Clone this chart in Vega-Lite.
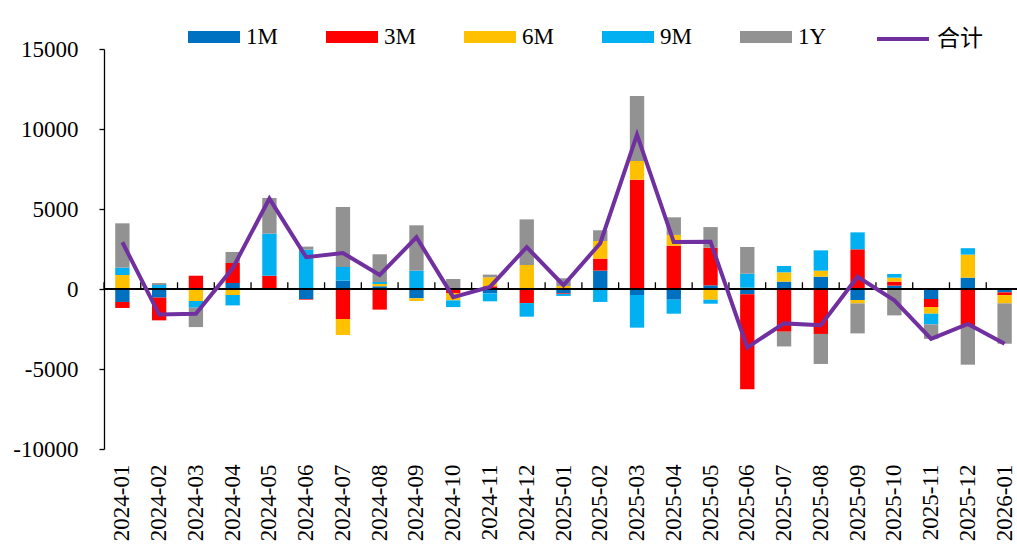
{
  "$schema": "https://vega.github.io/schema/vega-lite/v6.json",
  "autosize": {"type": "none"},
  "padding": {"left": 104, "top": 49, "right": 0, "bottom": 96},
  "width": 913,
  "height": 400,
  "background": "white",
  "config": {
    "view": {"stroke": null},
    "axis": {"labelFont": "Liberation Serif", "labelColor": "#000000", "title": null, "grid": false},
    "legend": {"labelFont": "Liberation Serif, Noto Sans CJK SC", "labelColor": "#000000", "padding": 0}
  },
  "datasets": {
    "bars": [
      {"month": "2024-01", "tenor": "1M", "value": -810}, {"month": "2024-01", "tenor": "3M", "value": -375}, {"month": "2024-01", "tenor": "6M", "value": 875}, {"month": "2024-01", "tenor": "9M", "value": 460}, {"month": "2024-01", "tenor": "1Y", "value": 2770},
      {"month": "2024-02", "tenor": "1M", "value": -540}, {"month": "2024-02", "tenor": "3M", "value": -1420}, {"month": "2024-02", "tenor": "6M", "value": 50}, {"month": "2024-02", "tenor": "9M", "value": 200}, {"month": "2024-02", "tenor": "1Y", "value": 120},
      {"month": "2024-03", "tenor": "3M", "value": 830}, {"month": "2024-03", "tenor": "6M", "value": -750}, {"month": "2024-03", "tenor": "9M", "value": -420}, {"month": "2024-03", "tenor": "1Y", "value": -1210},
      {"month": "2024-04", "tenor": "1M", "value": 375}, {"month": "2024-04", "tenor": "3M", "value": 1250}, {"month": "2024-04", "tenor": "6M", "value": -375}, {"month": "2024-04", "tenor": "9M", "value": -650}, {"month": "2024-04", "tenor": "1Y", "value": 690},
      {"month": "2024-05", "tenor": "3M", "value": 830}, {"month": "2024-05", "tenor": "9M", "value": 2630}, {"month": "2024-05", "tenor": "1Y", "value": 2230},
      {"month": "2024-06", "tenor": "1M", "value": -625}, {"month": "2024-06", "tenor": "3M", "value": -40}, {"month": "2024-06", "tenor": "9M", "value": 2460}, {"month": "2024-06", "tenor": "1Y", "value": 190},
      {"month": "2024-07", "tenor": "1M", "value": 520}, {"month": "2024-07", "tenor": "3M", "value": -1875}, {"month": "2024-07", "tenor": "6M", "value": -1000}, {"month": "2024-07", "tenor": "9M", "value": 855}, {"month": "2024-07", "tenor": "1Y", "value": 3750},
      {"month": "2024-08", "tenor": "1M", "value": 170}, {"month": "2024-08", "tenor": "3M", "value": -1290}, {"month": "2024-08", "tenor": "6M", "value": 145}, {"month": "2024-08", "tenor": "9M", "value": 125}, {"month": "2024-08", "tenor": "1Y", "value": 1730},
      {"month": "2024-09", "tenor": "1M", "value": -580}, {"month": "2024-09", "tenor": "6M", "value": -170}, {"month": "2024-09", "tenor": "9M", "value": 1150}, {"month": "2024-09", "tenor": "1Y", "value": 2830},
      {"month": "2024-10", "tenor": "3M", "value": -250}, {"month": "2024-10", "tenor": "6M", "value": -460}, {"month": "2024-10", "tenor": "9M", "value": -420}, {"month": "2024-10", "tenor": "1Y", "value": 625},
      {"month": "2024-11", "tenor": "1M", "value": -270}, {"month": "2024-11", "tenor": "3M", "value": 170}, {"month": "2024-11", "tenor": "6M", "value": 560}, {"month": "2024-11", "tenor": "9M", "value": -500}, {"month": "2024-11", "tenor": "1Y", "value": 170},
      {"month": "2024-12", "tenor": "1M", "value": -50}, {"month": "2024-12", "tenor": "3M", "value": -830}, {"month": "2024-12", "tenor": "6M", "value": 1500}, {"month": "2024-12", "tenor": "9M", "value": -850}, {"month": "2024-12", "tenor": "1Y", "value": 2850},
      {"month": "2025-01", "tenor": "1M", "value": -270}, {"month": "2025-01", "tenor": "3M", "value": -40}, {"month": "2025-01", "tenor": "6M", "value": 190}, {"month": "2025-01", "tenor": "9M", "value": -125}, {"month": "2025-01", "tenor": "1Y", "value": 480},
      {"month": "2025-02", "tenor": "1M", "value": 1150}, {"month": "2025-02", "tenor": "3M", "value": 750}, {"month": "2025-02", "tenor": "6M", "value": 1100}, {"month": "2025-02", "tenor": "9M", "value": -810}, {"month": "2025-02", "tenor": "1Y", "value": 670},
      {"month": "2025-03", "tenor": "1M", "value": -375}, {"month": "2025-03", "tenor": "3M", "value": 6830}, {"month": "2025-03", "tenor": "6M", "value": 1170}, {"month": "2025-03", "tenor": "9M", "value": -2040}, {"month": "2025-03", "tenor": "1Y", "value": 4060},
      {"month": "2025-04", "tenor": "1M", "value": -670}, {"month": "2025-04", "tenor": "3M", "value": 2710}, {"month": "2025-04", "tenor": "6M", "value": 670}, {"month": "2025-04", "tenor": "9M", "value": -875}, {"month": "2025-04", "tenor": "1Y", "value": 1100},
      {"month": "2025-05", "tenor": "1M", "value": 230}, {"month": "2025-05", "tenor": "3M", "value": 2350}, {"month": "2025-05", "tenor": "6M", "value": -670}, {"month": "2025-05", "tenor": "9M", "value": -250}, {"month": "2025-05", "tenor": "1Y", "value": 1290},
      {"month": "2025-06", "tenor": "1M", "value": -330}, {"month": "2025-06", "tenor": "3M", "value": -5940}, {"month": "2025-06", "tenor": "6M", "value": 80}, {"month": "2025-06", "tenor": "9M", "value": 875}, {"month": "2025-06", "tenor": "1Y", "value": 1670},
      {"month": "2025-07", "tenor": "1M", "value": 460}, {"month": "2025-07", "tenor": "3M", "value": -2670}, {"month": "2025-07", "tenor": "6M", "value": 580}, {"month": "2025-07", "tenor": "9M", "value": 400}, {"month": "2025-07", "tenor": "1Y", "value": -920},
      {"month": "2025-08", "tenor": "1M", "value": 770}, {"month": "2025-08", "tenor": "3M", "value": -2810}, {"month": "2025-08", "tenor": "6M", "value": 375}, {"month": "2025-08", "tenor": "9M", "value": 1270}, {"month": "2025-08", "tenor": "1Y", "value": -1875},
      {"month": "2025-09", "tenor": "1M", "value": -690}, {"month": "2025-09", "tenor": "3M", "value": 2480}, {"month": "2025-09", "tenor": "6M", "value": -210}, {"month": "2025-09", "tenor": "9M", "value": 1060}, {"month": "2025-09", "tenor": "1Y", "value": -1875},
      {"month": "2025-10", "tenor": "1M", "value": 210}, {"month": "2025-10", "tenor": "3M", "value": 250}, {"month": "2025-10", "tenor": "6M", "value": 250}, {"month": "2025-10", "tenor": "9M", "value": 230}, {"month": "2025-10", "tenor": "1Y", "value": -1650},
      {"month": "2025-11", "tenor": "1M", "value": -625}, {"month": "2025-11", "tenor": "3M", "value": -500}, {"month": "2025-11", "tenor": "6M", "value": -420}, {"month": "2025-11", "tenor": "9M", "value": -670}, {"month": "2025-11", "tenor": "1Y", "value": -900},
      {"month": "2025-12", "tenor": "1M", "value": 710}, {"month": "2025-12", "tenor": "3M", "value": -2350}, {"month": "2025-12", "tenor": "6M", "value": 1440}, {"month": "2025-12", "tenor": "9M", "value": 400}, {"month": "2025-12", "tenor": "1Y", "value": -2380},
      {"month": "2026-01", "tenor": "1M", "value": -210}, {"month": "2026-01", "tenor": "3M", "value": -170}, {"month": "2026-01", "tenor": "6M", "value": -520}, {"month": "2026-01", "tenor": "1Y", "value": -2520}
    ],
    "total": [
      {"month": "2024-01", "series": "合计", "total": 2920},
      {"month": "2024-02", "series": "合计", "total": -1590},
      {"month": "2024-03", "series": "合计", "total": -1550},
      {"month": "2024-04", "series": "合计", "total": 1290},
      {"month": "2024-05", "series": "合计", "total": 5650},
      {"month": "2024-06", "series": "合计", "total": 1985},
      {"month": "2024-07", "series": "合计", "total": 2250},
      {"month": "2024-08", "series": "合计", "total": 880},
      {"month": "2024-09", "series": "合计", "total": 3230},
      {"month": "2024-10", "series": "合计", "total": -505},
      {"month": "2024-11", "series": "合计", "total": 130},
      {"month": "2024-12", "series": "合计", "total": 2620},
      {"month": "2025-01", "series": "合计", "total": 235},
      {"month": "2025-02", "series": "合计", "total": 2860},
      {"month": "2025-03", "series": "合计", "total": 9645},
      {"month": "2025-04", "series": "合计", "total": 2935},
      {"month": "2025-05", "series": "合计", "total": 2950},
      {"month": "2025-06", "series": "合计", "total": -3645},
      {"month": "2025-07", "series": "合计", "total": -2150},
      {"month": "2025-08", "series": "合计", "total": -2270},
      {"month": "2025-09", "series": "合计", "total": 765},
      {"month": "2025-10", "series": "合计", "total": -710},
      {"month": "2025-11", "series": "合计", "total": -3115},
      {"month": "2025-12", "series": "合计", "total": -2180},
      {"month": "2026-01", "series": "合计", "total": -3420}
    ]
  },
  "resolve": {"scale": {"x": "shared", "y": "shared"}},
  "layer": [
    {
      "data": {"name": "bars"},
      "transform": [{"calculate": "indexof(['1M','3M','6M','9M','1Y'], datum.tenor)", "as": "ord"}],
      "mark": {"type": "bar", "width": {"band": 0.39}},
      "encoding": {
        "x": {
          "field": "month", "type": "ordinal",
          "scale": {"range": [0, 919], "paddingInner": 0, "paddingOuter": 0},
          "axis": {"orient": "bottom", "labelAngle": -90, "labelFontSize": 23, "labelPadding": 15, "ticks": false, "domain": false, "title": null, "labelBound": false}
        },
        "y": {
          "field": "value", "type": "quantitative", "stack": "zero",
          "scale": {"domain": [-10000, 15000], "nice": false, "zero": false},
          "axis": {"values": [-10000, -5000, 0, 5000, 10000, 15000], "labelExpr": "'' + datum.value", "labelFontSize": 23, "labelPadding": 21, "tickSize": 5, "tickColor": "#000000", "domainColor": "#000000", "domainWidth": 1.3, "tickWidth": 1.3, "title": null, "labelFlush": false}
        },
        "color": {
          "field": "tenor", "type": "nominal",
          "scale": {"domain": ["1M", "3M", "6M", "9M", "1Y"], "range": ["#0070C0", "#FF0000", "#FFC000", "#00B0F0", "#929292"]},
          "legend": {
            "title": null, "orient": "none", "legendX": 84, "legendY": -38, "direction": "horizontal",
            "symbolType": "M-1,-0.23H1V0.23H-1Z", "symbolSize": 2704, "symbolStrokeWidth": 0,
            "labelFontSize": 23, "labelOffset": 6, "columnPadding": 48, "gridAlign": "all"
          }
        },
        "order": {"field": "ord", "type": "quantitative"}
      }
    },
    {
      "data": {"name": "total"},
      "mark": {"type": "rule", "color": "#000000", "strokeWidth": 1.5},
      "encoding": {
        "y": {"datum": 0}
      }
    },
    {
      "data": {"name": "total"},
      "mark": {"type": "rule", "color": "#000000", "strokeWidth": 1.3},
      "encoding": {
        "x": {"field": "month", "type": "ordinal", "bandPosition": 0},
        "y": {"datum": 0},
        "y2": {"datum": 420}
      }
    },
    {
      "data": {"name": "total"},
      "mark": {"type": "line", "strokeWidth": 4},
      "encoding": {
        "x": {"field": "month", "type": "ordinal"},
        "y": {"field": "total", "type": "quantitative"},
        "stroke": {
          "field": "series", "type": "nominal",
          "scale": {"domain": ["合计"], "range": ["#7030A0"]},
          "legend": {
            "title": null, "orient": "none", "legendX": 771, "legendY": -38,
            "symbolType": "stroke", "symbolSize": 2704, "symbolStrokeWidth": 4,
            "labelFontSize": 23, "labelOffset": 6
          }
        }
      }
    }
  ]
}
